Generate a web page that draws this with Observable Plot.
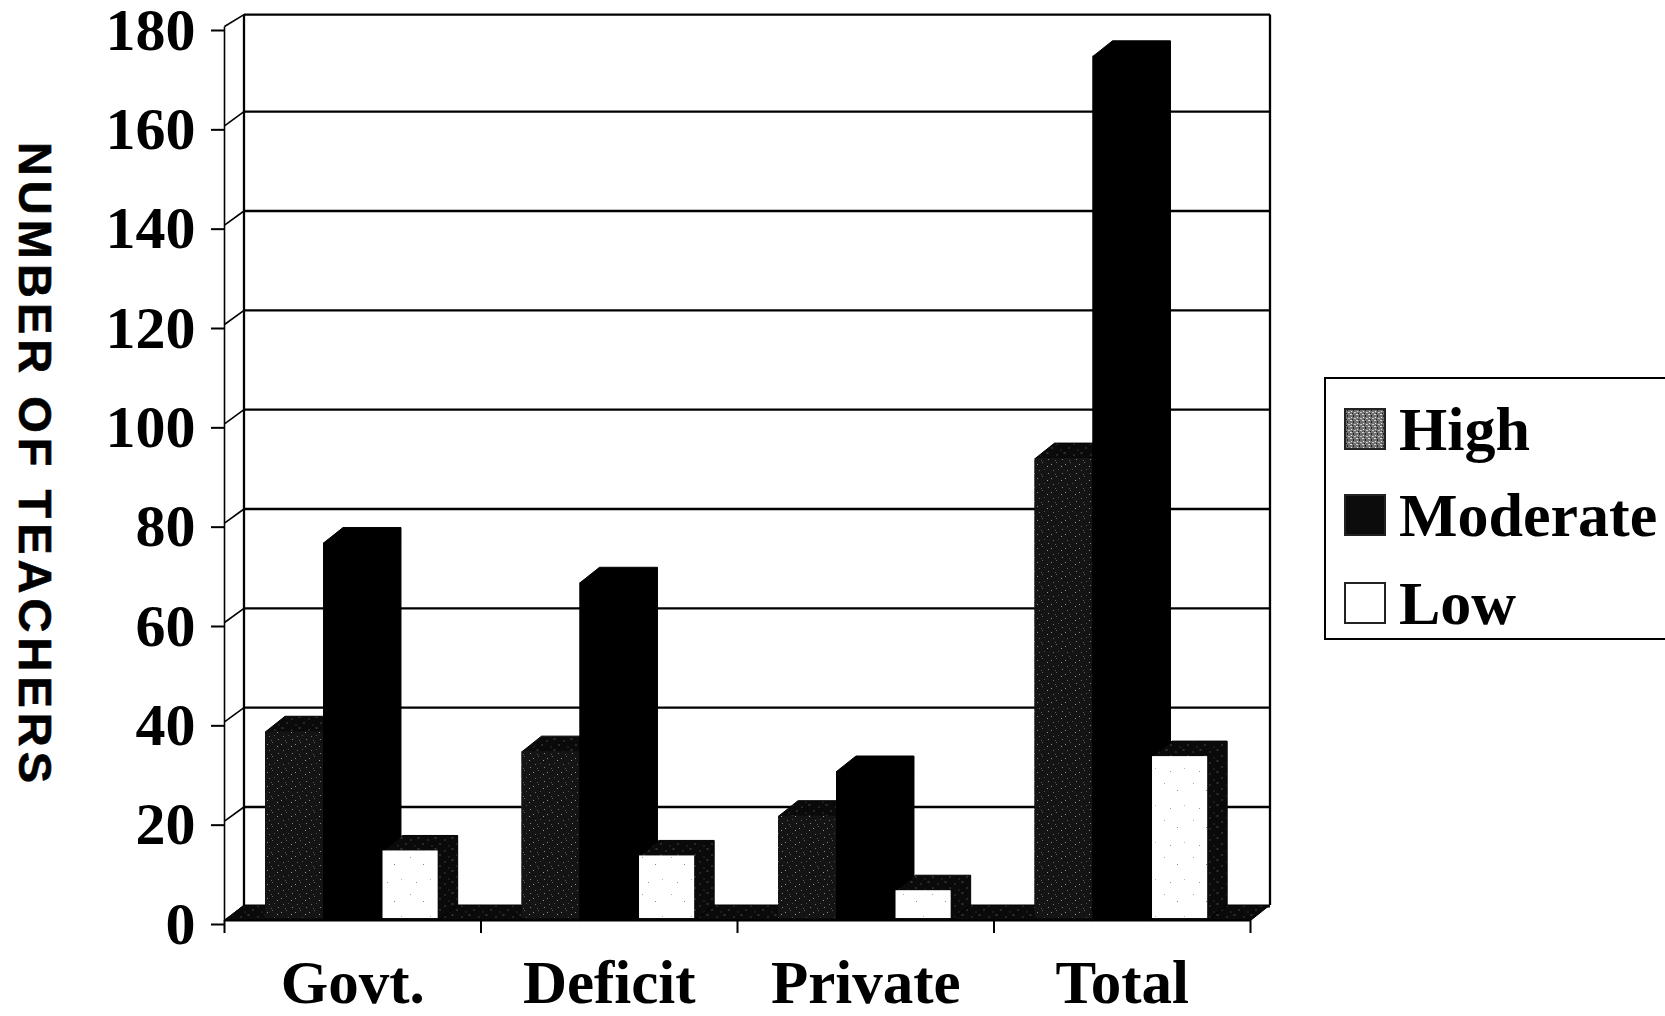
<!DOCTYPE html>
<html>
<head>
<meta charset="utf-8">
<title>Number of teachers by school type</title>
<script src="https://cdn.jsdelivr.net/npm/d3@7"></script>
<script src="https://cdn.jsdelivr.net/npm/@observablehq/plot@0.6"></script>
<style>
  html, body { margin: 0; padding: 0; background: #fff; overflow: hidden; }
  #page { position: relative; width: 1665px; height: 1016px; background: #fff; color: #000; }
  #defs { position: absolute; width: 0; height: 0; }
  #ytitle {
    position: absolute; left: 35px; top: 465px; white-space: nowrap;
    font: bold 47px "Liberation Sans", Arial, sans-serif; letter-spacing: 5px;
    -webkit-text-stroke: 0.6px #000;
    transform: translate(-50%, -50%) rotate(90deg);
  }
  #legend {
    position: absolute; left: 1324px; top: 377px; width: 341px; height: 263px;
    border: 2px solid #000; border-right: none; box-sizing: border-box; background: #fff;
    font: bold 62px "Liberation Serif", "Times New Roman", serif;
  }
  #legend .row { position: absolute; left: 18px; height: 42px; display: block; white-space: nowrap; }
  #legend svg { position: absolute; left: 0; top: 0; }
  #legend span { position: absolute; left: 55px; bottom: -16px; line-height: 1.2; }
</style>
</head>
<body>
<div id="page">
  <svg id="defs" aria-hidden="true">
    <defs>
      <!-- Dithered printing texture for the "High" bars and the shaded block faces -->
      <pattern id="grain-high" width="14" height="14" patternUnits="userSpaceOnUse">
        <rect width="14" height="14" fill="#141414"/>
        <rect x="1" y="2" width="1" height="1" fill="#8c8c8c"/>
        <rect x="6" y="0" width="1" height="1" fill="#5f5f5f"/>
        <rect x="11" y="4" width="1" height="1" fill="#9a9a9a"/>
        <rect x="3" y="8" width="1" height="1" fill="#6c6c6c"/>
        <rect x="8" y="7" width="1" height="1" fill="#4c4c4c"/>
        <rect x="12" y="11" width="1" height="1" fill="#808080"/>
        <rect x="5" y="12" width="1" height="1" fill="#5a5a5a"/>
      </pattern>
      <pattern id="grain-face" width="17" height="11" patternUnits="userSpaceOnUse">
        <rect width="17" height="11" fill="#0a0a0a"/>
        <rect x="2" y="3" width="1" height="1" fill="#707070"/>
        <rect x="9" y="1" width="2" height="1" fill="#5a5a5a"/>
        <rect x="14" y="7" width="1" height="1" fill="#808080"/>
        <rect x="6" y="9" width="1" height="1" fill="#505050"/>
      </pattern>
      <pattern id="grain-low" width="29" height="37" patternUnits="userSpaceOnUse">
        <rect width="29" height="37" fill="#fff"/>
        <rect x="4" y="6" width="1" height="1" fill="#aaa"/>
        <rect x="17" y="13" width="1" height="1" fill="#888"/>
        <rect x="24" y="28" width="1" height="1" fill="#bbb"/>
        <rect x="10" y="31" width="1" height="1" fill="#999"/>
      </pattern>
      <pattern id="grain-swatch" width="6" height="6" patternUnits="userSpaceOnUse">
        <rect width="6" height="6" fill="#707070"/>
        <rect x="0" y="0" width="2" height="1" fill="#d8d8d8"/>
        <rect x="3" y="1" width="1" height="2" fill="#222"/>
        <rect x="1" y="3" width="1" height="1" fill="#e8e8e8"/>
        <rect x="4" y="4" width="2" height="1" fill="#c8c8c8"/>
        <rect x="2" y="5" width="1" height="1" fill="#222"/>
      </pattern>
    </defs>
  </svg>
  <div id="chart"></div>
  <div id="ytitle">NUMBER OF TEACHERS</div>
  <div id="legend"></div>
</div>
<script>
// Teachers per school type, split by level
const categories = ["Govt.", "Deficit", "Private", "Total"];
const levels = ["High", "Moderate", "Low"];
const high = [38, 34, 21, 93];
const moderate = [76, 68, 30, 174];
const low = [14, 13, 6, 33];
const yTicks = [0, 20, 40, 60, 80, 100, 120, 140, 160, 180];

// Oblique projection of the block depth, in scale units
const depthX = 0.076;
const depthY = 3.12;
const gridDepth = 2.85;
const wallTop = 182.4;
const barStart = 0.16;
const barWidth = 0.226;
const lowWidth = 0.215;
const lowShift = 0.006;

const frontFill = {High: "url(#grain-high)", Moderate: "#000", Low: "url(#grain-low)"};
const seriesValues = {High: high, Moderate: moderate, Low: low};
const backY = (v) => Math.min(v + gridDepth, wallTop);

const bars = levels.flatMap((level, s) =>
  seriesValues[level].map((value, g) => {
    const x1 = g + barStart + s * barWidth + (level === "Low" ? lowShift : 0);
    return {level, g, value, x1, x2: x1 + (level === "Low" ? lowWidth : barWidth)};
  })
);

// Outline of a block: front face plus its top and right side
const outline = (b) => [
  [b.x1, 0], [b.x1, b.value], [b.x1 + depthX, b.value + depthY],
  [b.x2 + depthX, b.value + depthY], [b.x2 + depthX, depthY], [b.x2, 0]
].map(([x, y]) => ({x, y, id: `${b.level}-${b.g}`, level: b.level}));

const floor = [[0, 0], [depthX, depthY], [4 + depthX, depthY], [4, 0]].map(([x, y]) => ({x, y}));

const font = '"Liberation Serif", "Times New Roman", serif';
const line = {stroke: "#000", strokeWidth: 2.3};

const blockMarks = levels.flatMap((level) => {
  const rows = bars.filter((b) => b.level === level);
  return [
    Plot.line(rows.flatMap(outline), {x: "x", y: "y", z: "id", fill: level === "Moderate" ? "#000" : "url(#grain-face)", stroke: "#000", strokeWidth: 1, curve: "linear"}),
    Plot.rect(rows, {x1: "x1", x2: "x2", y1: 0.4, y2: "value", fill: frontFill[level]})
  ];
});

const chart = Plot.plot({
  width: 1665,
  height: 1016,
  marginLeft: 224,
  marginRight: 415,
  marginTop: 26,
  marginBottom: 96,
  style: {background: "transparent", color: "#000", overflow: "visible"},
  x: {domain: [0, 4], axis: null},
  y: {domain: [0, 180], axis: null},
  marks: [
    // Back wall, its gridlines, and the side connectors from the front axis
    Plot.link(yTicks, {x1: () => depthX, x2: () => 4 + depthX, y1: backY, y2: backY, ...line}),
    Plot.link(yTicks, {x1: () => 0, x2: () => depthX, y1: (d) => d, y2: backY, stroke: "#000", strokeWidth: 1.6}),
    Plot.link([0], {x1: () => depthX, x2: () => depthX, y1: () => 0, y2: () => wallTop, ...line}),
    Plot.link([0], {x1: () => 4 + depthX, x2: () => 4 + depthX, y1: () => depthY, y2: () => wallTop, ...line}),
    Plot.link([0], {x1: () => 0, x2: () => 0, y1: () => 0, y2: () => 180, stroke: "#000", strokeWidth: 1.6}),

    // Floor of the chart
    Plot.line(floor, {x: "x", y: "y", fill: "url(#grain-face)", stroke: "#000", strokeWidth: 1, curve: "linear"}),

    ...blockMarks,

    // Front baseline
    Plot.ruleY([0], {stroke: "#000", strokeWidth: 2}),

    // Axes
    Plot.axisY({ticks: yTicks, tickSize: 13, tickPadding: 16, fontSize: 60, fontFamily: font, fontWeight: "bold", dy: 4, strokeWidth: 2, anchor: "left", label: null}),
    Plot.axisX({ticks: [0, 1, 2, 3, 4], tickSize: 13, tickFormat: () => "", strokeWidth: 2, anchor: "bottom", label: null}),
    Plot.axisX({ticks: [0.5, 1.5, 2.5, 3.5], tickSize: 0, tickPadding: 39, tickFormat: (d) => categories[Math.floor(d)], fontSize: 61, fontFamily: font, fontWeight: "bold", anchor: "bottom", label: null})
  ]
});
document.getElementById("chart").append(chart);

// Legend key with one swatch per level
const legend = d3.select("#legend");
const swatchFill = {High: "url(#grain-swatch)", Moderate: "#0c0c0c", Low: "#fff"};
const rowTops = [29, 115, 203];
levels.forEach((level, i) => {
  const row = legend.append("div").attr("class", "row").style("top", `${rowTops[i]}px`);
  row.append("svg").attr("width", 42).attr("height", 42)
    .append("rect").attr("x", 1).attr("y", 1).attr("width", 40).attr("height", 40)
    .attr("fill", swatchFill[level]).attr("stroke", "#222").attr("stroke-width", 2);
  row.append("span").text(level);
});
</script>
</body>
</html>
